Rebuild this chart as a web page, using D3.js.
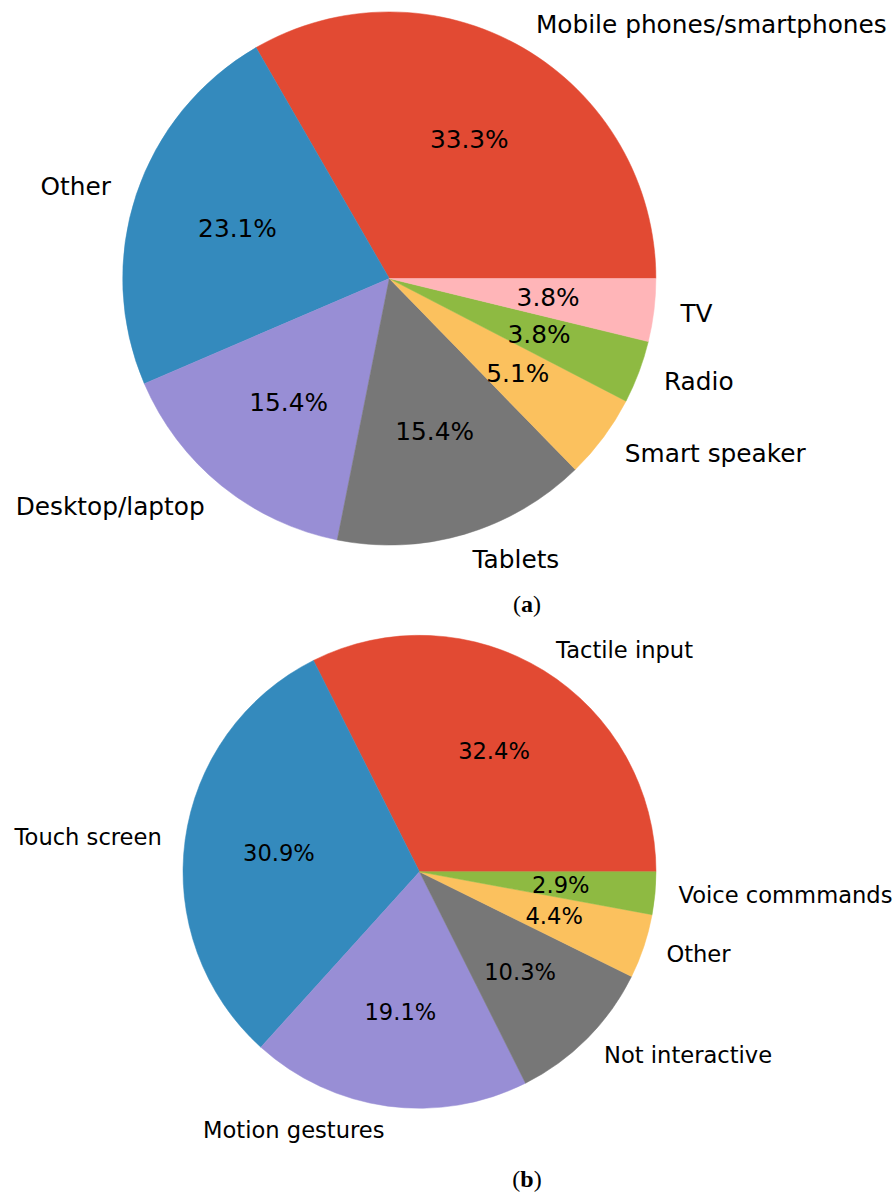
<!DOCTYPE html>
<html>
<head>
<meta charset="utf-8">
<script src="https://cdn.jsdelivr.net/npm/d3@7"></script>
<style>
  html, body { margin: 0; padding: 0; background: #fff; }
  svg { display: block; }
</style>
</head>
<body>
<svg id="chart" width="894" height="1193"></svg>
<script>
// Pie (a): devices
const catsA = ["Mobile phones/smartphones", "Other", "Desktop/laptop", "Tablets", "Smart speaker", "Radio", "TV"];
const valsA = [33.3, 23.1, 15.4, 15.4, 5.1, 3.8, 3.8];
// Pie (b): interaction
const catsB = ["Tactile input", "Touch screen", "Motion gestures", "Not interactive", "Other", "Voice commmands"];
const valsB = [32.4, 30.9, 19.1, 10.3, 4.4, 2.9];

const colorsList = ["#E24A33", "#348ABD", "#988ED5", "#777777", "#FBC15E", "#8EBA42", "#FFB5B8"];

const svg = d3.select("#chart");

function drawPie(cats, vals, cx, cy, r, fontSize, caption, capY) {
  const g = svg.append("g").attr("transform", `translate(${cx},${cy})`);
  const color = d3.scaleOrdinal().domain(cats).range(colorsList);
  // matplotlib: counterclockwise from 3 o'clock.
  const pie = d3.pie().sort(null).value(d => d.v)
    .startAngle(Math.PI / 2).endAngle(Math.PI / 2 - 2 * Math.PI);
  const data = cats.map((c, i) => ({ c, v: vals[i] }));
  const arcs = pie(data);
  const arc = d3.arc().innerRadius(0).outerRadius(r);
  g.selectAll("path.slice").data(arcs).enter().append("path")
    .attr("class", "slice")
    .attr("d", arc)
    .attr("fill", d => color(d.data.c))
    .attr("stroke", d => color(d.data.c))
    .attr("stroke-width", 0.5);

  const total = d3.sum(vals);
  arcs.forEach(a => {
    const mid = (a.startAngle + a.endAngle) / 2;
    const sx = Math.sin(mid), sy = -Math.cos(mid);
    g.append("text")
      .attr("x", 1.1 * r * sx)
      .attr("y", 1.1 * r * sy)
      .attr("text-anchor", sx >= 0 ? "start" : "end")
      .attr("dominant-baseline", "central")
      .attr("font-family", "DejaVu Sans, sans-serif")
      .attr("font-size", fontSize)
      .attr("fill", "#000")
      .text(a.data.c);
    g.append("text")
      .attr("x", 0.6 * r * sx)
      .attr("y", 0.6 * r * sy)
      .attr("text-anchor", "middle")
      .attr("dominant-baseline", "central")
      .attr("font-family", "DejaVu Sans, sans-serif")
      .attr("font-size", fontSize)
      .attr("fill", "#000")
      .text((a.data.v / total * 100).toFixed(1) + "%");
  });

  const t = svg.append("text")
    .attr("x", 527)
    .attr("y", capY)
    .attr("text-anchor", "middle")
    .attr("dominant-baseline", "central")
    .attr("font-family", "Liberation Serif, DejaVu Serif, serif")
    .attr("font-size", 24)
    .attr("fill", "#000");
  t.append("tspan").text("(");
  t.append("tspan").attr("font-weight", "bold").text(caption);
  t.append("tspan").text(")");
}

drawPie(catsA, valsA, 389.3, 278.5, 266.6, 24.8, "a", 604);
drawPie(catsB, valsB, 419.5, 871.8, 236.5, 22.6, "b", 1179);
</script>
</body>
</html>
